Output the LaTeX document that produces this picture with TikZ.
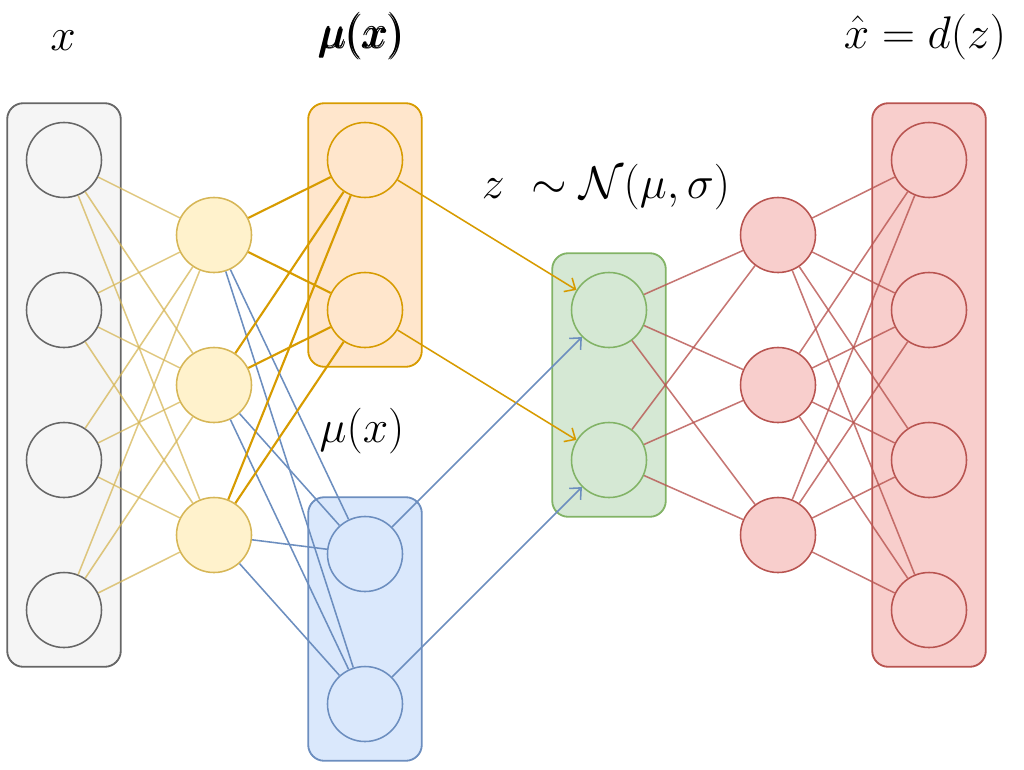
\documentclass[tikz,border=0pt]{standalone}
\usepackage{fix-cm}
\usepackage{amsmath}
\usetikzlibrary{fit,backgrounds,arrows.meta}

\definecolor{grayfill}{HTML}{F5F5F5}
\definecolor{grayline}{HTML}{666666}
\definecolor{yelfill}{HTML}{FFF2CC}
\definecolor{yelline}{HTML}{D6B656}
\definecolor{orgfill}{HTML}{FFE6CC}
\definecolor{orgline}{HTML}{D79B00}
\definecolor{blufill}{HTML}{DAE8FC}
\definecolor{bluline}{HTML}{6C8EBF}
\definecolor{grnfill}{HTML}{D5E8D4}
\definecolor{grnline}{HTML}{82B366}
\definecolor{redfill}{HTML}{F8CECC}
\definecolor{redline}{HTML}{B85450}

\tikzset{
  neuron/.style={draw, circle, minimum size=1.875cm, inner sep=0pt},
  layer/.style={draw, line width=1.3pt, rounded corners=0.4cm, inner sep=0.4625cm},
  lbl/.style={font=\fontsize{32.5}{39}\selectfont, anchor=base, inner sep=0pt},
  inedge/.style={draw=yelline, draw opacity=0.75},
  muedge/.style={draw=orgline, line width=1.5pt},
  sgedge/.style={draw=bluline},
  redge/.style={draw=redline, draw opacity=0.8}
}

\begin{document}
\begin{tikzpicture}[x=0.025cm, y=-0.025cm, line width=1.1pt,
  >={Straight Barb[length=2.2mm, width=4mm]}]
  \useasboundingbox (0,0) rectangle (1024,769);

  \foreach \i/\y in {1/160,2/310,3/460,4/610}
    \node[neuron, draw=grayline, fill=grayfill] (in\i) at (64,\y) {};
  \foreach \i/\y in {1/235,2/385,3/535}
    \node[neuron, draw=yelline, fill=yelfill] (h\i) at (214,\y) {};
  \node[neuron, draw=orgline, fill=orgfill] (mu1) at (365,160) {};
  \node[neuron, draw=orgline, fill=orgfill] (mu2) at (365,310) {};
  \node[neuron, draw=bluline, fill=blufill] (sg1) at (365,554) {};
  \node[neuron, draw=bluline, fill=blufill] (sg2) at (365,704) {};
  \node[neuron, draw=grnline, fill=grnfill] (z1) at (609,310) {};
  \node[neuron, draw=grnline, fill=grnfill] (z2) at (609,460) {};
  \foreach \i/\y in {1/235,2/385,3/535}
    \node[neuron, draw=redline, fill=redfill] (d\i) at (778,\y) {};
  \foreach \i/\y in {1/160,2/310,3/460,4/610}
    \node[neuron, draw=redline, fill=redfill] (out\i) at (929,\y) {};

  \begin{scope}[on background layer]
    \node[layer, draw=grayline, fill=grayfill, fit=(in1)(in4)] (inbox) {};
    \node[layer, draw=orgline, fill=orgfill, fit=(mu1)(mu2)] (mubox) {};
    \node[layer, draw=bluline, fill=blufill, fit=(sg1)(sg2)] (sgbox) {};
    \node[layer, draw=grnline, fill=grnfill, fit=(z1)(z2)] (zbox) {};
    \node[layer, draw=redline, fill=redfill, fit=(out1)(out4)] (outbox) {};
  \end{scope}

  \foreach \i in {1,...,4}
    \foreach \j in {1,2,3}
      \draw[inedge] (in\i) -- (h\j);
  \foreach \j in {1,2,3}
    \foreach \k in {1,2} {
      \draw[muedge] (h\j) -- (mu\k);
      \draw[sgedge] (h\j) -- (sg\k);
    }
  \draw[->, draw=orgline] (mu1) -- (z1);
  \draw[->, draw=orgline] (mu2) -- (z2);
  \draw[->, sgedge] (sg1) -- (z1);
  \draw[->, sgedge] (sg2) -- (z2);
  \foreach \k in {1,2}
    \foreach \j in {1,2,3}
      \draw[redge] (z\k) -- (d\j);
  \foreach \j in {1,2,3}
    \foreach \m in {1,...,4}
      \draw[redge] (d\j) -- (out\m);

  \node[lbl] (xlbl) at (63,50) {$x$};
  \node[lbl] (mulbl) at (362,48) {$\pmb{\mu(x)}$};
  \node[lbl] (xhatlbl) at (925,48) {$\hat{x} = d(z)$};
  \node[lbl] (zlbl) at (606,198) {$z\ \sim \mathcal{N}(\mu,\sigma)$};
  \node[lbl] (sglbl) at (362,442) {$\mu(x)$};
\end{tikzpicture}
\end{document}
